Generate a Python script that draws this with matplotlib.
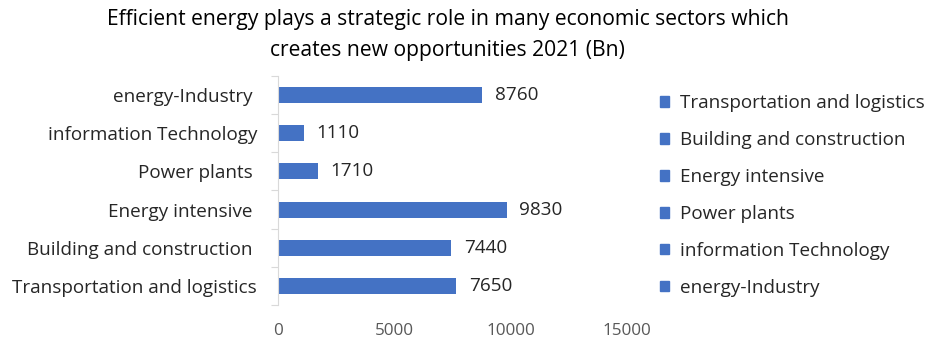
import numpy as np
import matplotlib
matplotlib.use("Agg")
import matplotlib.pyplot as plt
from matplotlib.patches import Patch

# data, in chart order (bottom to top)
categories = [
    "Transportation and logistics",
    "Building and construction",
    "Energy intensive",
    "Power plants",
    "information Technology",
    "energy-Industry",
]
# axis labels as typed in the sheet (some carry a trailing blank)
axis_labels = [
    "Transportation and logistics",
    "Building and construction ",
    "Energy intensive ",
    "Power plants ",
    "information Technology",
    "energy-Industry ",
]
values = [7650, 7440, 9830, 1710, 1110, 8760]
xticks = [0, 5000, 10000, 15000]

BAR = "#4472C4"
TXT = "#262626"
plt.rcParams["font.family"] = ["Open Sans", "DejaVu Sans"]

fig = plt.figure(figsize=(9.41, 3.58), dpi=100)
ax = fig.add_axes([0.2954, 0.148, 0.3709, 0.64])

y = np.arange(len(categories))
ax.barh(y, values, height=0.42, color=BAR)
for yi, v in zip(y, values):
    ax.text(v + 550, yi, f"{v}", va="center", ha="left", fontsize=13.6, color=TXT)

ax.set_xlim(0, 15000)
ax.set_ylim(-0.5, len(categories) - 0.5)
ax.set_xticks(xticks)
ax.set_xticklabels([str(t) for t in xticks], fontsize=12.3, color="#595959")
ax.set_yticks(y)
ax.set_yticklabels(axis_labels, fontsize=13.6, color=TXT)
ax.set_yticks(np.arange(-0.5, len(categories), 1.0), minor=True)
ax.tick_params(axis="x", length=0, pad=13)
ax.tick_params(axis="y", which="major", length=0, pad=15)
ax.tick_params(axis="y", which="minor", length=5, color="#D9D9D9", width=0.8)

for s in ["top", "right", "bottom"]:
    ax.spines[s].set_visible(False)
ax.spines["left"].set_color("#D9D9D9")
ax.spines["left"].set_linewidth(0.8)

fig.suptitle("Efficient energy plays a strategic role in many economic sectors which\n"
             "creates new opportunities 2021 (Bn)",
             x=0.476, y=0.975, fontsize=15.2, color="black", linespacing=1.6)

handles = [Patch(facecolor=BAR, edgecolor=BAR) for _ in categories]
fig.legend(handles, categories, loc="upper left", bbox_to_anchor=(0.693, 0.758),
           frameon=False, fontsize=13.6, handlelength=0.5, handleheight=0.5,
           handletextpad=0.55, labelspacing=1.0, labelcolor=TXT, borderaxespad=0)

fig.savefig("out.png", dpi=100)
